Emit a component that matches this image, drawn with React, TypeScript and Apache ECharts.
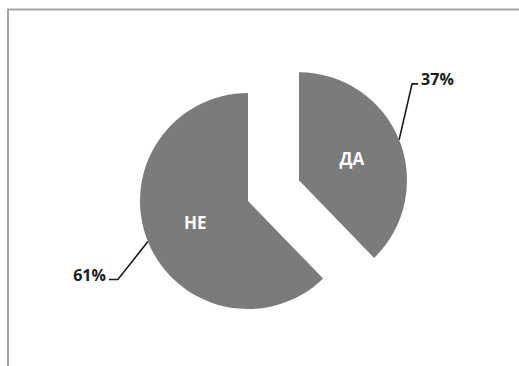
import React, { useEffect, useRef } from "react";
import * as echarts from "echarts";

const categories = ["ДА", "НЕ"];
const values = [37, 61];
const percentLabels = ["37%", "61%"];

const PIE_COLOR = "#7b7b7b";
const CENTER = [248, 201];
const RADIUS = 108;
const EXPLODE = 55;

export default function App() {
  const ref = useRef<HTMLDivElement>(null);

  useEffect(() => {
    if (!ref.current) return;
    const chart = echarts.init(ref.current, undefined, { renderer: "svg" });

    const total = values.reduce((a, b) => a + b, 0);
    // mid angle of first slice (ДА), clockwise from 90deg
    const daAngle = (values[0] / total) * 360;
    const mid = ((90 - daAngle / 2) * Math.PI) / 180;
    const explodedCenter = [
      CENTER[0] + Math.cos(mid) * EXPLODE,
      CENTER[1] - Math.sin(mid) * EXPLODE,
    ];

    const makeData = (visibleIdx: number, kind: "inside" | "outside") =>
      categories.map((name, i) => {
        const visible = i === visibleIdx;
        const base: any = {
          name,
          value: values[i],
          itemStyle: {
            color: kind === "inside" && visible ? PIE_COLOR : "rgba(0,0,0,0)",
          },
        };
        if (!visible) {
          base.label = { show: false };
          base.labelLine = { show: false };
        }
        return base;
      });

    const outsideLayout = (params: any) => {
      const pts = params.labelLinePoints;
      if (!pts || !pts.length) return {};
      const s = pts[0];
      if (params.dataIndex === 0) {
        const bend = [s[0] + 13, s[1] - 56];
        const end = [bend[0] + 6, bend[1]];
        return {
          x: end[0] + 3,
          y: end[1] - 5,
          align: "left",
          verticalAlign: "middle",
          labelLinePoints: [s, bend, end],
        };
      }
      const bend = [s[0] - 30, s[1] + 38];
      const end = [bend[0] - 9, bend[1]];
      return {
        x: end[0] - 3,
        y: end[1] - 5,
        align: "right",
        verticalAlign: "middle",
        labelLinePoints: [s, bend, end],
      };
    };

    const common = {
      type: "pie" as const,
      radius: RADIUS,
      startAngle: 90,
      clockwise: true,
      avoidLabelOverlap: false,
      silent: true,
      emphasis: { disabled: true },
    };

    const insideLabel = {
      show: true,
      position: "inside",
      formatter: "{b}",
      color: "#ffffff",
      fontFamily: "Open Sans",
      fontWeight: "bold",
      fontSize: 17,
    };

    const outsideLabel = {
      show: true,
      position: "outside",
      formatter: (p: any) => percentLabels[p.dataIndex],
      color: "#1a1a1a",
      fontFamily: "Open Sans",
      fontWeight: "bold",
      fontSize: 16,
    };

    const labelLine = {
      show: true,
      length: 20,
      length2: 8,
      lineStyle: { color: "#1a1a1a", width: 1.6 },
    };

    chart.setOption({
      animation: false,
      backgroundColor: "#ffffff",
      graphic: [
        {
          type: "rect",
          shape: { x: 8, y: 9.5, width: 800, height: 800 },
          style: { fill: "none", stroke: "#a3a3a3", lineWidth: 2 },
          silent: true,
          z: -10,
        },
      ],
      series: [
        {
          ...common,
          center: CENTER,
          data: makeData(1, "inside"),
          label: insideLabel,
          labelLine: { show: false },
        },
        {
          ...common,
          center: explodedCenter,
          data: makeData(0, "inside"),
          label: insideLabel,
          labelLine: { show: false },
        },
        {
          ...common,
          center: CENTER,
          data: makeData(1, "outside"),
          label: outsideLabel,
          labelLine,
          labelLayout: outsideLayout,
        },
        {
          ...common,
          center: explodedCenter,
          data: makeData(0, "outside"),
          label: outsideLabel,
          labelLine,
          labelLayout: outsideLayout,
        },
      ],
    });

    return () => chart.dispose();
  }, []);

  return (
    <div
      ref={ref}
      style={{ position: "absolute", left: 0, top: 0, width: 519, height: 366 }}
    />
  );
}
